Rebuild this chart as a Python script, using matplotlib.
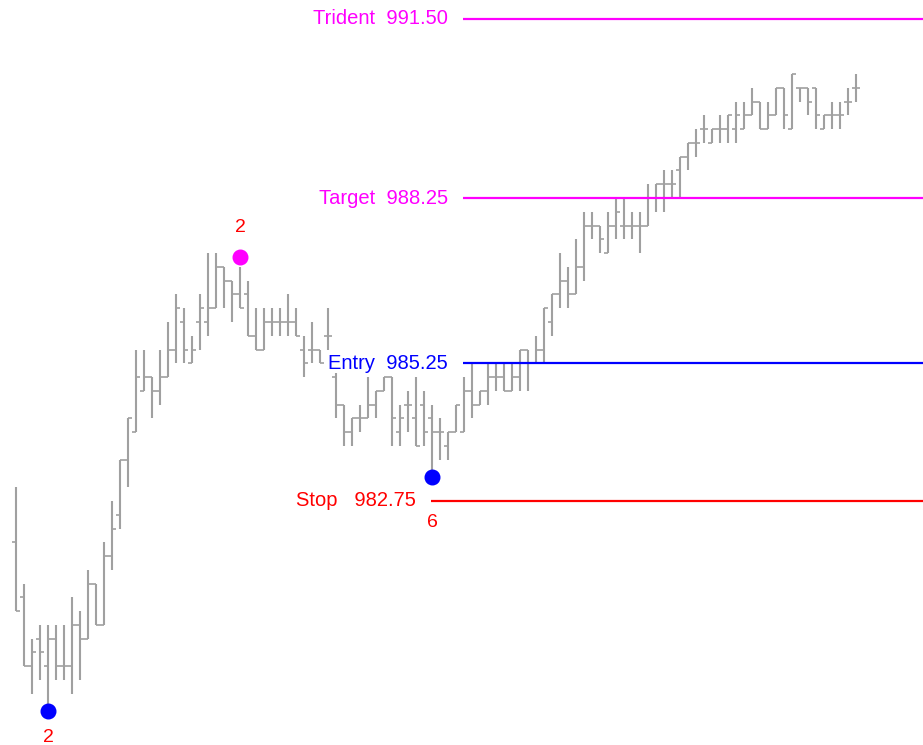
import matplotlib
matplotlib.use("Agg")
import matplotlib.pyplot as plt
import numpy as np

# OHLC bars, one per slot
opens = [982.0, 981.0, 979.75, 980.25, 979.75, 980.25, 979.75, 979.75, 980.5, 980.25,
         981.25, 980.5, 981.75, 982.5, 983.5, 984.0, 984.75, 985.0, 984.75, 985.0,
         985.5, 986.0, 985.25, 986.0, 986.0, 986.25, 987.0, 986.75, 986.5, 986.5,
         985.75, 985.5, 986.0, 986.0, 986.0, 986.0, 985.5, 985.5, 985.5, 985.75,
         985.0, 984.5, 984.0, 984.25, 984.25, 984.5, 984.75, 985.0, 984.0, 984.5,
         984.25, 984.5, 984.25, 984.0, 983.75, 984.0, 984.0, 984.75, 984.5, 984.75,
         985.0, 985.0, 984.75, 985.0, 985.5, 985.25, 985.5, 986.0, 986.5, 986.75,
         986.5, 987.0, 987.75, 987.75, 987.25, 987.75, 987.75, 987.75, 987.75, 987.75,
         988.25, 988.5, 988.5, 988.75, 989.0, 989.25, 989.5, 989.25, 989.5, 989.5,
         989.5, 989.5, 989.75, 990.0, 989.5, 989.75, 990.25, 989.5, 990.25, 990.25,
         990.25, 989.5, 989.75, 989.75, 990.0, 990.25]
highs = [983.0, 981.25, 980.25, 980.5, 980.5, 980.5, 980.5, 981.0, 980.75, 981.5,
         981.25, 982.0, 982.75, 983.5, 984.25, 985.5, 985.5, 985.0, 985.5, 986.0,
         986.5, 986.25, 985.75, 986.5, 987.25, 987.25, 987.0, 986.75, 987.0, 986.75,
         986.25, 986.25, 986.25, 986.25, 986.5, 986.25, 985.75, 986.0, 985.5, 986.25,
         985.25, 984.5, 984.25, 984.5, 985.0, 984.75, 985.0, 985.0, 984.5, 984.75,
         985.0, 984.75, 984.5, 984.25, 984.0, 984.5, 985.0, 985.25, 984.75, 985.25,
         985.25, 985.25, 985.25, 985.5, 985.5, 985.75, 986.25, 986.5, 987.25, 987.0,
         987.5, 988.0, 988.0, 987.75, 988.0, 988.25, 988.25, 988.0, 988.0, 988.5,
         988.5, 988.75, 988.75, 989.0, 989.25, 989.5, 989.75, 989.5, 989.75, 989.75,
         990.0, 990.0, 990.25, 990.0, 990.0, 990.25, 990.25, 990.5, 990.25, 990.25,
         990.25, 989.75, 990.0, 990.0, 990.25, 990.5]
lows = [980.75, 979.75, 979.25, 979.5, 979.0, 979.5, 979.5, 979.25, 979.5, 980.25,
        980.5, 980.5, 981.5, 982.25, 983.0, 984.0, 984.75, 984.25, 984.5, 985.0,
        985.25, 985.25, 985.25, 985.5, 985.75, 986.25, 986.25, 986.0, 986.25, 985.75,
        985.5, 985.5, 985.75, 985.75, 985.75, 985.75, 985.0, 985.25, 985.25, 985.5,
        984.25, 983.75, 983.75, 984.0, 984.25, 984.25, 984.75, 983.75, 983.75, 984.0,
        983.75, 983.75, 983.25, 983.5, 983.5, 984.0, 984.0, 984.25, 984.5, 984.5,
        984.75, 984.75, 984.75, 984.75, 984.75, 985.25, 985.25, 985.75, 986.25, 986.25,
        986.5, 986.75, 987.5, 987.25, 987.25, 987.5, 987.5, 987.5, 987.25, 987.75,
        988.0, 988.0, 988.25, 988.25, 988.75, 989.0, 989.25, 989.25, 989.25, 989.25,
        989.25, 989.5, 989.75, 989.5, 989.5, 989.75, 989.5, 989.5, 990.0, 989.75,
        989.5, 989.5, 989.5, 989.5, 989.75, 990.0]
closes = [980.75, 979.75, 980.0, 980.0, 980.25, 979.75, 979.75, 980.5, 980.25, 981.25,
          980.5, 981.75, 982.25, 983.5, 984.25, 985.0, 985.0, 984.75, 985.0, 985.5,
          986.25, 985.5, 985.5, 986.25, 986.25, 987.0, 986.75, 986.5, 986.25, 985.75,
          985.5, 986.0, 986.0, 986.0, 986.0, 985.75, 985.25, 985.5, 985.25, 985.75,
          984.5, 984.0, 984.25, 984.25, 984.5, 984.75, 985.0, 984.25, 984.25, 984.5,
          983.75, 984.0, 984.0, 984.0, 984.0, 984.5, 984.75, 984.5, 984.75, 985.0,
          985.0, 984.75, 985.0, 985.5, 985.25, 985.5, 986.25, 986.5, 986.75, 986.5,
          987.0, 987.75, 987.75, 987.5, 987.75, 988.0, 987.75, 987.75, 987.75, 988.25,
          988.5, 988.5, 988.5, 989.0, 989.25, 989.25, 989.5, 989.5, 989.5, 989.75,
          989.75, 989.75, 990.0, 989.5, 989.75, 990.25, 989.75, 990.5, 990.25, 990.0,
          989.75, 989.75, 989.75, 989.75, 990.0, 990.25]

# trade levels
level_names = ["Trident", "Target", "Entry", "Stop"]
level_prices = [991.50, 988.25, 985.25, 982.75]
level_colors = ["#ff00ff", "#ff00ff", "#0000ff", "#ff0000"]
level_start = [56, 56, 56, 52]
level_gaps = ["  ", "  ", "  ", "   "]

# swing markers: bar index, high/low, dot colour, count label
swing_bars = [4, 28, 52]
swing_kind = ["low", "high", "low"]
swing_colors = ["#0000ff", "#ff00ff", "#0000ff"]
swing_labels = ["2", "2", "6"]
swing_label_offset = [-19, 21, -33]   # points

plt.rcParams['font.family'] = ['Liberation Sans', 'DejaVu Sans']

fig = plt.figure(figsize=(9.23, 7.45), dpi=100)
ax = fig.add_axes([0, 0, 1, 1])
ax.set_axis_off()

x = np.arange(len(opens))
bar_col = "#a0a0a0"
ax.vlines(x, lows, highs, color=bar_col, lw=1.5, zorder=2)
ax.hlines(opens, x - 0.45, x, color=bar_col, lw=1.2, zorder=2)
ax.hlines(closes, x, x + 0.45, color=bar_col, lw=1.2, zorder=2)

xmax = -2 + 923 / 8
for name, price, col, start, gap in zip(level_names, level_prices, level_colors,
                                        level_start, level_gaps):
    ax.hlines(price, start - 0.1, xmax, color=col, lw=1.6, zorder=3)
    ax.text(start - 2.0, price, f"{name}{gap}{price:.2f}", color=col, fontsize=14.5,
            ha="right", va="center", zorder=4,
            bbox=dict(fc="white", ec="none", pad=0.5))

for i, kind, col, lab, off in zip(swing_bars, swing_kind, swing_colors,
                                  swing_labels, swing_label_offset):
    p = lows[i] - 0.06 if kind == "low" else highs[i] + 0.18
    ax.plot(i, p, "o", color=col, ms=10.5, zorder=5)
    ax.annotate(lab, (i, p), xytext=(0, off), textcoords="offset points",
                color="#ff0000", fontsize=14, ha="center", va="center", zorder=5)

ax.set_xlim(-2, xmax)
ax.set_ylim(982.75 - 244 / 55.09, 982.75 + 501 / 55.09)

fig.savefig("out.png", dpi=100, facecolor="white")
